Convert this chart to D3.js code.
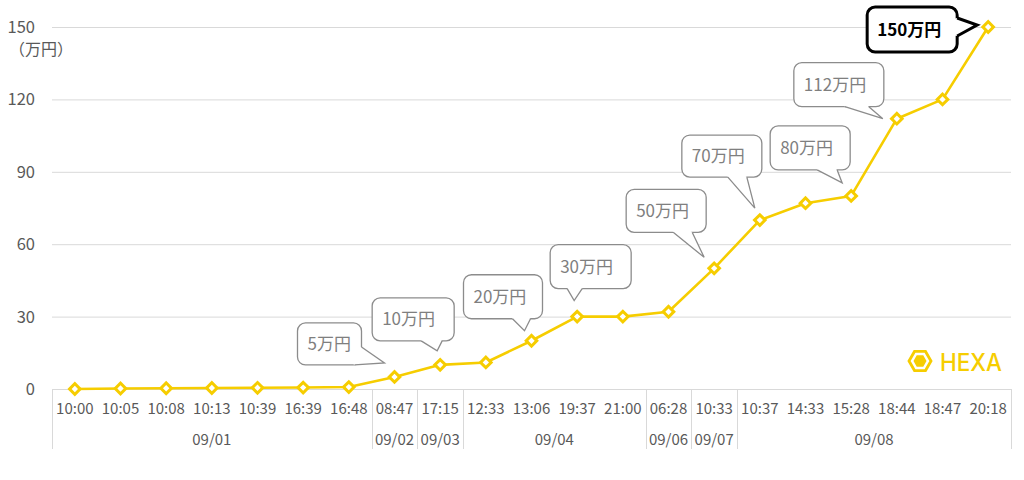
<!DOCTYPE html>
<html>
<head>
<meta charset="utf-8">
<script src="https://cdn.jsdelivr.net/npm/d3@7"></script>
<style>
  html, body { margin: 0; padding: 0; background: #fff; }
  svg text { font-family: "Noto Sans CJK JP", "Noto Sans", sans-serif; }
</style>
</head>
<body>
<svg id="chart" width="1024" height="480"></svg>
<script>
// ---- data ----
const times = ["10:00","10:05","10:08","10:13","10:39","16:39","16:48","08:47","17:15","12:33","13:06","19:37","21:00","06:28","10:33","10:37","14:33","15:28","18:44","18:47","20:18"];
const dates = ["09/01","09/01","09/01","09/01","09/01","09/01","09/01","09/02","09/03","09/04","09/04","09/04","09/04","09/06","09/07","09/08","09/08","09/08","09/08","09/08","09/08"];
const values = [0, 0.2, 0.3, 0.4, 0.5, 0.6, 0.8, 5, 10, 11, 20, 30, 30, 32, 50, 70, 77, 80, 112, 120, 150];
const yTicks = [0, 30, 60, 90, 120, 150];
const calloutIndex = [7, 8, 10, 11, 14, 15, 17, 18, 20];
const calloutText = ["5万円","10万円","20万円","30万円","50万円","70万円","80万円","112万円","150万円"];

// ---- layout of callouts (offsets from their data point) ----
const calloutLayout = [
  {bx:-97, by:-54, w:64, h:42, b1:[-33,-30], b2:[-40,-12], tip:[-10,-14]},
  {bx:-68, by:-67, w:82, h:43, b1:[-19,-24], b2:[2,-24],   tip:[-3,-14]},
  {bx:-68, by:-66, w:79, h:44, b1:[-19,-22], b2:[-1,-22],  tip:[-7,-10]},
  {bx:-27, by:-72, w:81, h:44, b1:[-10,-28], b2:[5,-28],   tip:[-3,-16]},
  {bx:-88, by:-79, w:80, h:43, b1:[-41,-36], b2:[-22,-36], tip:[-10,-11]},
  {bx:-78, by:-85, w:80, h:42, b1:[-32,-43], b2:[-13,-43], tip:[-5,-12]},
  {bx:-81, by:-70, w:80, h:44, b1:[-34,-26], b2:[-14,-26], tip:[-9,-13]},
  {bx:-103,by:-56, w:90, h:44, b1:[-52,-12], b2:[-28,-12], tip:[-14,0]},
  {bx:-121,by:-20, w:90, h:45, b1:[-31,-9],  b2:[-31,9],   tip:[-11,-2], strong:true}
];

const yellow = "#F6CD00";
const gridColor = "#d9d9d9";
const textColor = "#595959";

const svg = d3.select("#chart");
const plotLeft = 52, plotRight = 1011, plotTop = 27, plotBottom = 389, axisBottom = 449;

const x = d3.scaleBand().domain(d3.range(times.length)).range([plotLeft, plotRight]).padding(0);
const y = d3.scaleLinear().domain([0, 150]).range([plotBottom, plotTop]);

// gridlines
svg.append("g").selectAll("line").data(yTicks).join("line")
  .attr("x1", plotLeft).attr("x2", plotRight)
  .attr("y1", d => y(d) + 0.5).attr("y2", d => y(d) + 0.5)
  .attr("stroke", gridColor).attr("stroke-width", 1);

// y labels
svg.append("g").selectAll("text").data(yTicks).join("text")
  .attr("x", 35).attr("y", d => y(d)).attr("dy", "0.36em")
  .attr("text-anchor", "end").attr("fill", textColor).attr("font-size", 16.5)
  .text(d => d);
svg.append("text").attr("x", 9).attr("y", 55).attr("fill", textColor)
  .attr("font-size", 16).text("（万円）");

// x axis: time labels
svg.append("g").selectAll("text").data(times).join("text")
  .attr("x", (d, i) => x(i) + x.bandwidth() / 2).attr("y", 414)
  .attr("text-anchor", "middle").attr("fill", textColor).attr("font-size", 15)
  .text(d => d);

// x axis: date groups
const groups = [];
dates.forEach((d, i) => {
  if (!groups.length || groups[groups.length - 1].label !== d) groups.push({label: d, start: i, end: i});
  else groups[groups.length - 1].end = i;
});
const sepX = [x(0)].concat(groups.map(g => x(g.end) + x.bandwidth()));
svg.append("g").selectAll("line").data(sepX).join("line")
  .attr("x1", d => Math.round(d) + 0.5).attr("x2", d => Math.round(d) + 0.5)
  .attr("y1", plotBottom).attr("y2", axisBottom)
  .attr("stroke", gridColor).attr("stroke-width", 1);
svg.append("g").selectAll("text").data(groups).join("text")
  .attr("x", g => (x(g.start) + x(g.end) + x.bandwidth()) / 2).attr("y", 445)
  .attr("text-anchor", "middle").attr("fill", textColor).attr("font-size", 15)
  .text(g => g.label);

// line
const pts = values.map((v, i) => [x(i) + x.bandwidth() / 2, y(v)]);
svg.append("path").datum(pts)
  .attr("d", d3.line())
  .attr("fill", "none").attr("stroke", yellow).attr("stroke-width", 2.6)
  .attr("stroke-linejoin", "round");

// markers
const diamond = d3.symbol().type(d3.symbolSquare).size(56);
svg.append("g").selectAll("path").data(pts).join("path")
  .attr("transform", d => `translate(${d[0]},${d[1]}) rotate(45)`)
  .attr("d", diamond)
  .attr("fill", "#fff").attr("stroke", yellow).attr("stroke-width", 3);

// callouts
const cg = svg.append("g");
calloutIndex.forEach((idx, k) => {
  const L = calloutLayout[k];
  const [px, py] = pts[idx];
  const strong = !!L.strong;
  const stroke = strong ? "#000" : "#8c8c8c";
  const sw = strong ? 3 : 1.3;
  const bx = px + L.bx, by = py + L.by;
  const g = cg.append("g");
  g.append("rect").attr("x", bx).attr("y", by).attr("width", L.w).attr("height", L.h)
    .attr("rx", 8).attr("ry", 8).attr("fill", "#fff").attr("stroke", stroke).attr("stroke-width", sw);
  const b1 = [px + L.b1[0], py + L.b1[1]], b2 = [px + L.b2[0], py + L.b2[1]], tp = [px + L.tip[0], py + L.tip[1]];
  const cen = [bx + L.w / 2, by + L.h / 2];
  g.append("path").attr("d", d3.line()([b1, tp, b2, cen]) + "Z").attr("fill", "#fff").attr("stroke", "none");
  g.append("path").attr("d", d3.line()([b1, tp, b2])).attr("fill", "none")
    .attr("stroke", stroke).attr("stroke-width", sw).attr("stroke-linejoin", "miter");
  g.append("text").attr("x", bx + 10).attr("y", by + L.h / 2).attr("dy", "0.36em")
    .attr("fill", strong ? "#000" : "#7f7f7f").attr("font-size", 17)
    .attr("font-weight", strong ? 700 : 400).text(calloutText[k]);
});

// HEXA logo
const logo = svg.append("g").attr("transform", "translate(920,361)");
const hex = r => d3.range(6).map(i => [r * Math.cos(Math.PI / 3 * i), r * Math.sin(Math.PI / 3 * i)]);
logo.append("path").attr("d", d3.line()(hex(11)) + "Z").attr("fill", "none").attr("stroke", yellow).attr("stroke-width", 2.8);
logo.append("path").attr("d", d3.line()(hex(6.5)) + "Z").attr("fill", yellow);
logo.append("text").attr("x", 20).attr("y", 9.5).attr("fill", yellow)
  .attr("font-size", 24).attr("font-weight", 500).style("font-family", "Inter, 'Noto Sans', sans-serif")
  .attr("textLength", 62).attr("lengthAdjust", "spacingAndGlyphs").text("HEXA");
</script>
</body>
</html>
